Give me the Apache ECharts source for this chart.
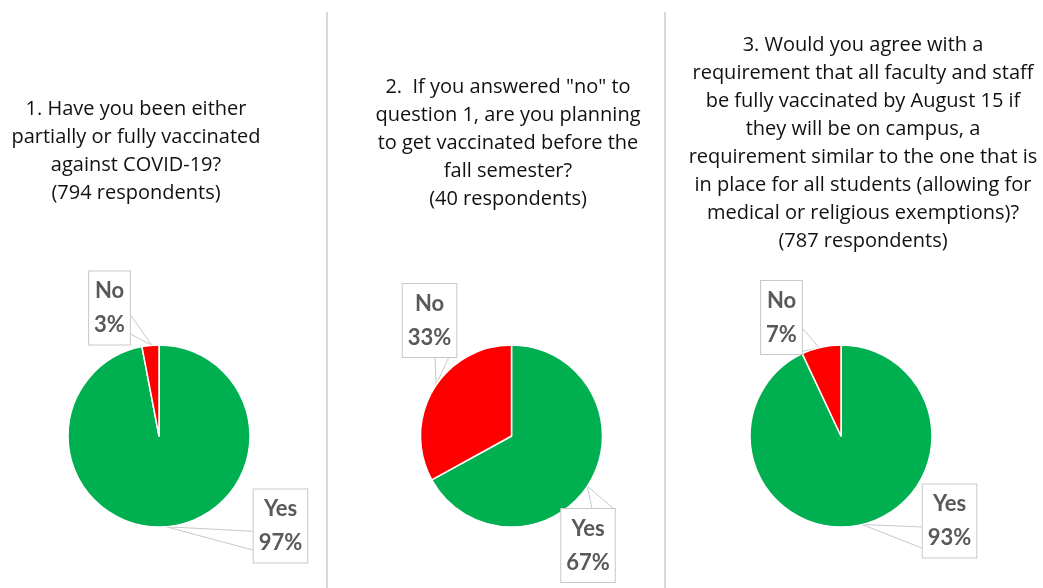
<!DOCTYPE html>
<html>
<head>
<meta charset="utf-8">
<script src="https://cdn.jsdelivr.net/npm/echarts@6/dist/echarts.min.js"></script>
<style>
html,body{margin:0;padding:0;background:#fff;}
#chart{width:1043px;height:588px;}
</style>
</head>
<body>
<div id="chart"></div>
<script>
// ---- data ----
const categories = ['Yes', 'No'];
const q1Values = [97, 3];
const q2Values = [67, 33];
const q3Values = [93, 7];
const titles = [
  '1. Have you been either\npartially or fully vaccinated\nagainst COVID-19?\n(794 respondents)',
  '2.  If you answered "no" to\nquestion 1, are you planning\nto get vaccinated before the\nfall semester?\n(40 respondents)',
  '3. Would you agree with a\nrequirement that all faculty and staff\nbe fully vaccinated by August 15 if\nthey will be on campus, a\nrequirement similar to the one that is\nin place for all students (allowing for\nmedical or religious exemptions)?\n(787 respondents)'
];
const seriesValues = [q1Values, q2Values, q3Values];

// ---- layout / style ----
const colors = ['#00B050', '#FF0000'];
const centers = [[159, 436], [511.5, 436], [841, 436]];
const radius = 91;
// label box centres [Yes, No] per pie
const labelPos = [
  [[280.5, 526], [109.5, 308]],
  [[588, 545.5], [429.5, 320.5]],
  [[949.5, 521], [781.5, 317.5]]
];
// callout pointer: tip angle (deg clockwise from 12 o'clock), box side, two fractions along that side
const callouts = [
  [{a: 175.5, side: 'left', f: [0.57, 0.82]}, {a: 355.5, side: 'right', f: [0.6, 0.85]}],
  [{a: 123.5, side: 'top', f: [0.57, 0.95]}, {a: 304, side: 'bottom', f: [0.6, 0.84]}],
  [{a: 166.5, side: 'left', f: [0.58, 0.86]}, {a: 346, side: 'right', f: [0.65, 0.95]}]
];
const titlePos = [[136, 95], [508, 73], [863, 31]];

const chart = echarts.init(document.getElementById('chart'), null, {renderer: 'canvas'});

function sidePoint(box, side, f) {
  if (side === 'left') return [box.x, box.y + box.h * f];
  if (side === 'right') return [box.x + box.w, box.y + box.h * f];
  if (side === 'top') return [box.x + box.w * f, box.y];
  return [box.x + box.w * f, box.y + box.h];
}

const series = seriesValues.map((vals, si) => ({
  type: 'pie',
  center: centers[si],
  radius: radius,
  startAngle: 90,
  clockwise: true,
  animation: false,
  silent: true,
  itemStyle: {borderColor: '#ffffff', borderWidth: 1.5},
  data: categories.map((c, i) => ({name: c, value: vals[i], itemStyle: {color: colors[i]}})),
  label: {
    show: true,
    position: 'outside',
    formatter: '{b}\n{c}%',
    fontFamily: 'Lato',
    fontWeight: 'bold',
    fontSize: 22,
    lineHeight: 34,
    color: '#595959',
    align: 'center',
    backgroundColor: '#ffffff',
    borderColor: '#c8c8c8',
    borderWidth: 1,
    padding: [3, 5, 2, 5]
  },
  labelLine: {show: true, length: 4, length2: 4, lineStyle: {color: '#c8c8c8', width: 1}},
  labelLayout: function (p) {
    const pos = labelPos[si][p.dataIndex];
    const w = p.labelRect.width, h = p.labelRect.height;
    const box = {x: pos[0] - w / 2, y: pos[1] - h / 2, w: w, h: h};
    const co = callouts[si][p.dataIndex];
    const rad = co.a * Math.PI / 180;
    const c = centers[si];
    const tip = [c[0] + radius * Math.sin(rad), c[1] - radius * Math.cos(rad)];
    const p1 = sidePoint(box, co.side, co.f[0]);
    const p2 = sidePoint(box, co.side, co.f[1]);
    return {x: pos[0], y: pos[1], align: 'center', verticalAlign: 'middle', labelLinePoints: [p1, tip, p2]};
  }
}));

const graphics = [
  {type: 'line', shape: {x1: 327, y1: 12, x2: 327, y2: 588}, style: {stroke: '#d9d9d9', lineWidth: 2}, silent: true},
  {type: 'line', shape: {x1: 665, y1: 12, x2: 665, y2: 588}, style: {stroke: '#d9d9d9', lineWidth: 2}, silent: true}
].concat(titles.map((t, i) => ({
  type: 'text',
  x: titlePos[i][0],
  y: titlePos[i][1],
  silent: true,
  style: {
    text: t,
    align: 'center',
    verticalAlign: 'top',
    fontFamily: 'Open Sans',
    fontSize: 20,
    lineHeight: 28,
    fill: '#111111'
  }
})));

chart.setOption({
  backgroundColor: '#ffffff',
  animation: false,
  graphic: graphics,
  series: series
});
</script>
</body>
</html>
